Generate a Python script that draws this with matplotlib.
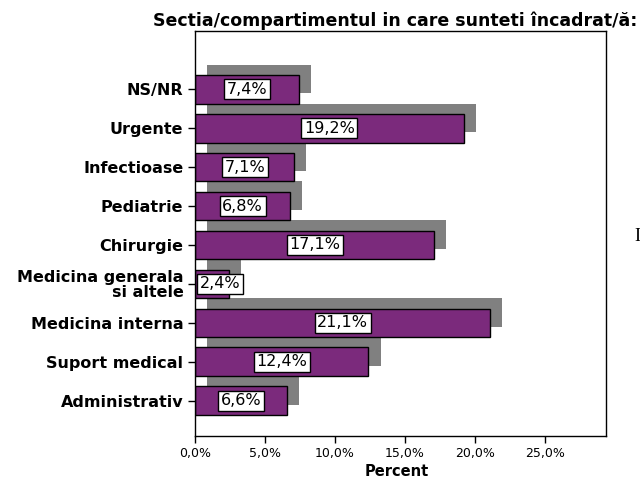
import matplotlib
matplotlib.use("Agg")
import matplotlib.pyplot as plt

plt.rcParams['font.family'] = ['DejaVu Sans']

categories = ['Administrativ', 'Suport medical', 'Medicina interna',
              'Medicina generala\nsi altele', 'Chirurgie', 'Pediatrie',
              'Infectioase', 'Urgente', 'NS/NR']
percent = [6.6, 12.4, 21.1, 2.4, 17.1, 6.8, 7.1, 19.2, 7.4]
xticks = [0, 5, 10, 15, 20, 25]

purple = '#7b2a7c'
shadow = '#808080'

fig = plt.figure(figsize=(6.4, 4.78), dpi=100)
ax = fig.add_axes([0.305, 0.088, 0.642, 0.847])

pos = list(range(len(categories)))
h = 0.74
# drop shadow behind each bar
ax.barh([p + 0.26 for p in pos], percent, left=0.86, height=h,
        color=shadow, edgecolor='none', zorder=1)
ax.barh(pos, percent, height=h, color=purple, edgecolor='black',
        linewidth=1, zorder=2)

for p, v in zip(pos, percent):
    ax.text(max(v / 2, 1.8), p, f'{v:.1f}%'.replace('.', ','),
            ha='center', va='center', fontsize=11.5, zorder=3,
            bbox=dict(boxstyle='square,pad=0.16', fc='white', ec='black', lw=1))

ax.set_xlim(0, 29.4)
ax.set_ylim(-0.9, 9.49)
ax.set_xticks(xticks)
ax.set_xticklabels([f'{t:.1f}%'.replace('.', ',') for t in xticks], fontsize=9)
ax.set_yticks(pos)
ax.set_yticklabels(categories, fontsize=11.5, fontweight='bold', linespacing=0.95)
ax.tick_params(axis='both', direction='out', length=5, width=1)
ax.tick_params(axis='x', pad=3)
for s in ax.spines.values():
    s.set_linewidth(1)

fig.text(0.62, 0.013, 'Percent', ha='center', va='center',
         fontsize=10.5, fontweight='bold')
fig.text(0.996, 0.957, 'Sectia/compartimentul in care sunteti încadrat/ă:',
         ha='right', va='center', fontsize=12.5, fontweight='bold')
fig.text(0.992, 0.505, 'I', ha='left', va='center', fontsize=13,
         family='Liberation Serif')

fig.savefig('out.png', dpi=100)
